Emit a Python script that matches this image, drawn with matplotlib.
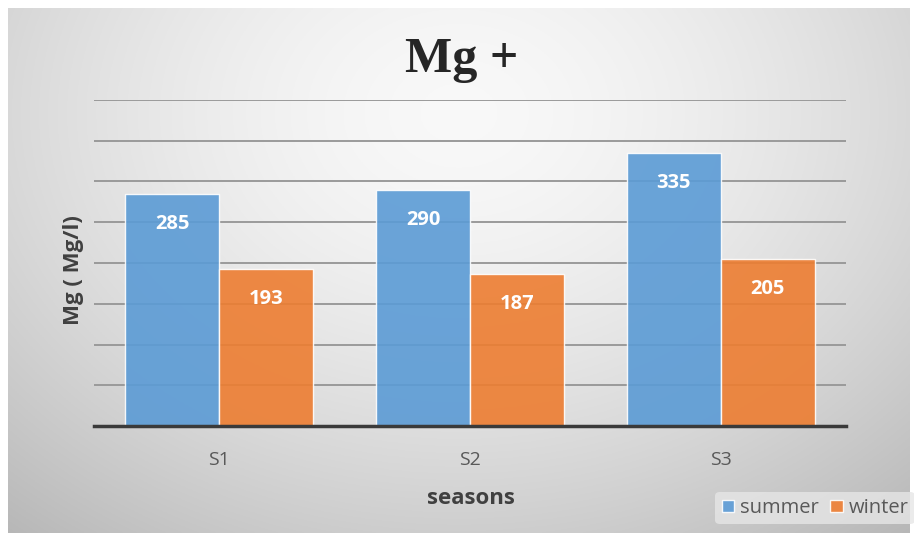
import numpy as np
import matplotlib
matplotlib.use("Agg")
import matplotlib.pyplot as plt

plt.rcParams['font.family'] = ['Open Sans', 'DejaVu Sans']

seasons = ['S1', 'S2', 'S3']
summer = [285, 290, 335]
winter = [193, 187, 205]

W, H = 914, 533
fig = plt.figure(figsize=(W / 100, H / 100), dpi=100)
fig.patch.set_facecolor('white')

# soft radial grey background of the chart area
bg = fig.add_axes([8 / W, 0, (910 - 8) / W, 525 / H])
yy, xx = np.mgrid[0:1:300j, 0:1:500j]
r = np.sqrt(((xx - 0.5) / 0.75) ** 2 + ((yy - 0.2) / 1.0) ** 2)
shade = np.clip(0.975 - 0.24 * r ** 1.6, 0, 1)
bg.imshow(np.dstack([shade] * 3), aspect='auto', extent=[0, 1, 1, 0])
bg.set_xlim(0, 1)
bg.set_ylim(1, 0)
bg.set_axis_off()

ax = fig.add_axes([94 / W, 1 - 426 / H, 752 / W, 326 / H])
ax.set_facecolor('none')

x = np.arange(len(seasons))
w = 0.375
b1 = ax.bar(x - w / 2, summer, w, color='#5B9BD5', alpha=0.9,
            edgecolor='white', linewidth=1, label='summer', zorder=3)
b2 = ax.bar(x + w / 2, winter, w, color='#ED7D31', alpha=0.9,
            edgecolor='white', linewidth=1, label='winter', zorder=3)

for bars in (b1, b2):
    for rect in bars:
        ax.annotate(f'{rect.get_height():.0f}',
                    (rect.get_x() + rect.get_width() / 2, rect.get_height()),
                    xytext=(0, -30), textcoords='offset pixels',
                    ha='center', va='center', color='white',
                    fontsize=14.5, fontweight='bold', zorder=4)

ax.set_xlim(-0.5, 2.5)
ax.set_ylim(0, 400)
ax.set_yticks(np.arange(50, 401, 50))
ax.set_yticklabels([])
ax.yaxis.grid(True, color='#9a9a9a', linewidth=1.4, zorder=1)
ax.tick_params(axis='y', length=0)
ax.set_xticks(x)
ax.set_xticklabels(seasons, fontsize=14, color='#595959')
ax.tick_params(axis='x', length=0, pad=18)
for side in ('top', 'right', 'left'):
    ax.spines[side].set_visible(False)
ax.spines['bottom'].set_color('#3a3a3a')
ax.spines['bottom'].set_linewidth(2.5)
ax.spines['bottom'].set_zorder(5)

fig.text(462 / W, 1 - 60 / H, 'Mg +', ha='center', va='center',
         family='Liberation Serif', fontweight='bold', fontsize=36,
         color='#262626')
fig.text(471 / W, 1 - 499 / H, 'seasons', ha='center', va='center',
         fontsize=16, fontweight='bold', color='#404040')
fig.text(73 / W, 1 - 270 / H, 'Mg ( Mg/l)', ha='center', va='center',
         rotation=90, fontsize=16, fontweight='bold', color='#404040')

leg = fig.legend(handles=[b1, b2], loc='center',
                 bbox_to_anchor=(815 / W, 1 - 508 / H), ncol=2,
                 frameon=True, fontsize=14.5, handlelength=0.6,
                 handleheight=0.6, handletextpad=0.3, columnspacing=0.6,
                 borderpad=0.3)
leg.get_frame().set_facecolor('#e6e6e6')
leg.get_frame().set_edgecolor('none')
leg.get_frame().set_alpha(0.8)
for t in leg.get_texts():
    t.set_color('#595959')

fig.savefig('out.png', dpi=100)
